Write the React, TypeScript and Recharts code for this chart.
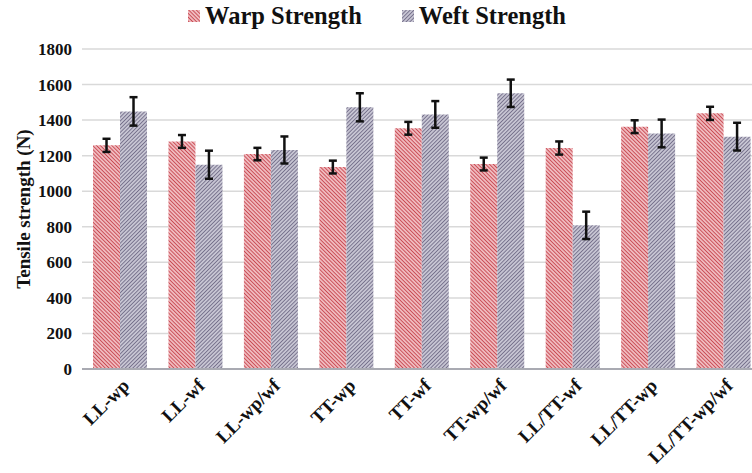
import React from "react";
import { BarChart, Bar, XAxis, YAxis, CartesianGrid, ErrorBar } from "recharts";

const categories = [
  "LL-wp",
  "LL-wf",
  "LL-wp/wf",
  "TT-wp",
  "TT-wf",
  "TT-wp/wf",
  "LL/TT-wf",
  "LL/TT-wp",
  "LL/TT-wp/wf",
];
const warpStrength = [1258, 1280, 1209, 1136, 1354, 1153, 1243, 1363, 1438];
const warpError = [37, 36, 35, 36, 36, 36, 37, 36, 37];
const weftStrength = [1449, 1149, 1232, 1472, 1432, 1551, 808, 1325, 1307];
const weftError = [80, 79, 76, 79, 75, 77, 77, 78, 78];
const yTicks = [0, 200, 400, 600, 800, 1000, 1200, 1400, 1600, 1800];

const data = categories.map((name, i) => ({
  name,
  warp: warpStrength[i],
  warpErr: warpError[i],
  weft: weftStrength[i],
  weftErr: weftError[i],
}));

const FONT = '"Liberation Serif", "Times New Roman", serif';
const RED_LINE = "#c2343f";
const RED_BG = "#efb9bd";
const GREY_LINE = "#645f7d";
const GREY_BG = "#c6c4d2";

const Hatch = ({ id, line, bg, angle }: { id: string; line: string; bg: string; angle: number }) => (
  <pattern
    id={id}
    patternUnits="userSpaceOnUse"
    width={2.7}
    height={2.7}
    patternTransform={`rotate(${angle})`}
  >
    <rect width={2.7} height={2.7} fill={bg} />
    <line x1={0} y1={0} x2={0} y2={2.7} stroke={line} strokeWidth={1.5} />
  </pattern>
);

const XTick = (props: any) => {
  const { x, y, payload } = props;
  return (
    <g transform={`translate(${x + 6},${y + 5}) rotate(-45)`}>
      <text
        x={0}
        y={0}
        dy="0.35em"
        textAnchor="end"
        fontFamily={FONT}
        fontWeight="bold"
        fontSize={19}
        fill="#111"
      >
        {payload.value}
      </text>
    </g>
  );
};

const legendItems = [
  { label: "Warp Strength", id: "lgWarp", line: RED_LINE, bg: RED_BG, angle: -45 },
  { label: "Weft Strength", id: "lgWeft", line: GREY_LINE, bg: GREY_BG, angle: 45 },
];

const ChartLegend = () => (
  <div
    style={{
      position: "absolute",
      top: 2,
      left: 188,
      display: "flex",
      gap: 40,
    }}
  >
    {legendItems.map((it) => (
      <div key={it.id} style={{ display: "flex", alignItems: "center" }}>
        <svg width={12} height={12} style={{ marginRight: 5 }}>
          <defs>
            <Hatch id={it.id} line={it.line} bg={it.bg} angle={it.angle} />
          </defs>
          <rect width={12} height={12} fill={`url(#${it.id})`} />
        </svg>
        <span
          style={{
            fontFamily: FONT,
            fontWeight: "bold",
            fontSize: 24.5,
            color: "#111",
            lineHeight: "28px",
          }}
        >
          {it.label}
        </span>
      </div>
    ))}
  </div>
);

export default function App() {
  return (
    <div
      style={{
        position: "fixed",
        left: 0,
        top: 0,
        width: 752,
        height: 473,
        overflow: "hidden",
        background: "#fff",
      }}
    >
      <BarChart
        width={762}
        height={473}
        data={data}
        margin={{ top: 49, right: 1, bottom: 74, left: 0 }}
        barCategoryGap="14.6%"
        barGap={0}
      >
        <defs>
          <Hatch id="warpHatch" line={RED_LINE} bg={RED_BG} angle={-45} />
          <Hatch id="weftHatch" line={GREY_LINE} bg={GREY_BG} angle={45} />
        </defs>
        <CartesianGrid vertical={false} stroke="#d9d9d9" strokeWidth={1.5} />
        <XAxis
          dataKey="name"
          height={30}
          interval={0}
          tick={<XTick />}
          tickLine={false}
          axisLine={{ stroke: "#a9aab2", strokeWidth: 2 }}
        />
        <YAxis
          width={82}
          domain={[0, 1800]}
          ticks={yTicks}
          interval={0}
          axisLine={false}
          tickLine={false}
          tickMargin={4}
          tick={{ fontFamily: FONT, fontWeight: "bold", fontSize: 17, fill: "#111" }}
          label={{
            value: "Tensile strength (N)",
            angle: -90,
            position: "insideLeft",
            dx: 18,
            style: {
              fontFamily: FONT,
              fontWeight: "bold",
              fontSize: 19,
              fill: "#111",
              textAnchor: "middle",
            },
          }}
        />
        <Bar dataKey="warp" name="Warp Strength" fill="url(#warpHatch)" isAnimationActive={false}>
          <ErrorBar
            dataKey="warpErr"
            width={4}
            strokeWidth={2.5}
            stroke="#111"
            isAnimationActive={false}
          />
        </Bar>
        <Bar dataKey="weft" name="Weft Strength" fill="url(#weftHatch)" isAnimationActive={false}>
          <ErrorBar
            dataKey="weftErr"
            width={4}
            strokeWidth={2.5}
            stroke="#111"
            isAnimationActive={false}
          />
        </Bar>
      </BarChart>
      <ChartLegend />
    </div>
  );
}
